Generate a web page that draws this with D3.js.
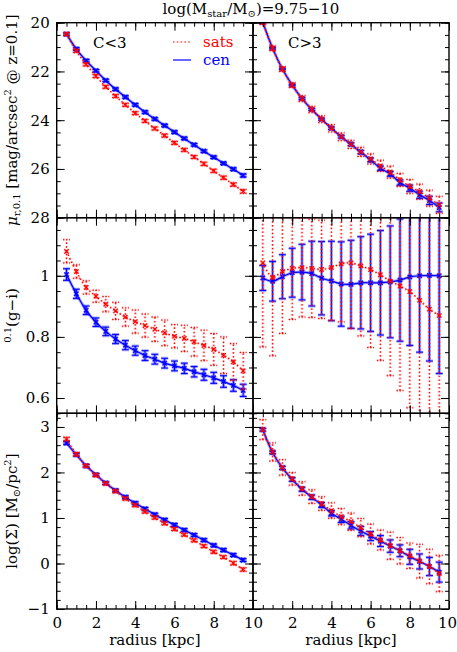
<!DOCTYPE html>
<html><head><meta charset="utf-8">
<script src="https://cdn.jsdelivr.net/npm/d3@7"></script>
<style>
body{margin:0;background:#fff}
svg{display:block}
text{font-family:"DejaVu Serif","Liberation Serif",serif;}
</style>
</head><body>
<svg id="c" width="457" height="652"></svg>
<script>
// ---------------- data ----------------
const radius = [0.5,1.0,1.5,2.0,2.5,3.0,3.5,4.0,4.5,5.0,5.5,6.0,6.5,7.0,7.5,8.0,8.5,9.0,9.5];

// surface brightness  (row 1)
const muLowCen    = [20.47,21.08,21.56,21.97,22.37,22.73,23.05,23.37,23.67,23.95,24.22,24.49,24.75,25.01,25.27,25.52,25.77,26.01,26.27];
const muLowCenErr = [0.05,0.05,0.05,0.05,0.05,0.05,0.05,0.05,0.05,0.05,0.05,0.05,0.05,0.05,0.05,0.05,0.05,0.05,0.06];
const muLowSat    = [20.47,21.16,21.71,22.19,22.63,23.01,23.37,23.71,24.03,24.34,24.63,24.93,25.22,25.51,25.79,26.08,26.36,26.64,26.92];
const muLowSatErr = [0.06,0.06,0.06,0.06,0.06,0.06,0.06,0.06,0.06,0.06,0.06,0.06,0.06,0.06,0.07,0.07,0.07,0.07,0.08];
const muHighCen    = [19.98,21.05,21.90,22.56,23.11,23.56,23.96,24.33,24.68,24.99,25.31,25.63,25.97,26.20,26.56,26.79,27.06,27.29,27.58];
const muHighCenErr = [0.03,0.03,0.03,0.03,0.04,0.04,0.04,0.05,0.05,0.06,0.07,0.08,0.09,0.10,0.11,0.13,0.15,0.17,0.18];
const muHighSat    = [19.98,21.05,21.90,22.56,23.11,23.56,23.96,24.33,24.68,24.99,25.30,25.59,25.87,26.13,26.45,26.72,26.93,27.20,27.47];
const muHighSatErr = [0.10,0.10,0.10,0.10,0.12,0.13,0.14,0.15,0.16,0.17,0.19,0.21,0.23,0.25,0.27,0.29,0.31,0.33,0.35];

// colour (row 2)
const gi_LowCen    = [1.004,0.941,0.887,0.848,0.818,0.793,0.773,0.755,0.739,0.727,0.714,0.705,0.697,0.686,0.676,0.666,0.654,0.641,0.625];
const gi_LowCenErr = [0.019,0.015,0.014,0.014,0.014,0.015,0.015,0.015,0.016,0.016,0.016,0.016,0.017,0.017,0.018,0.018,0.019,0.019,0.020];
const gi_LowSat    = [1.080,1.014,0.962,0.933,0.907,0.885,0.865,0.850,0.837,0.825,0.813,0.802,0.795,0.784,0.772,0.759,0.740,0.718,0.689];
const gi_LowSatErr = [0.038,0.022,0.022,0.020,0.025,0.028,0.030,0.038,0.038,0.040,0.042,0.038,0.043,0.047,0.050,0.052,0.060,0.060,0.060];
const gi_HighCen    = [0.993,0.982,0.997,1.010,1.012,1.007,0.992,0.983,0.973,0.972,0.977,0.977,0.977,0.980,0.986,0.996,1.000,1.001,1.000];
const gi_HighCenErr = [0.041,0.065,0.072,0.080,0.091,0.106,0.120,0.130,0.138,0.144,0.151,0.159,0.171,0.183,0.200,0.224,0.250,0.280,0.320];
const gi_HighSat    = [1.042,0.995,1.014,1.024,1.027,1.024,1.021,1.027,1.039,1.042,1.032,1.020,1.003,0.983,0.966,0.948,0.920,0.891,0.870];
const gi_HighSatErr = [0.275,0.257,0.203,0.167,0.162,0.161,0.161,0.173,0.190,0.215,0.229,0.255,0.280,0.310,0.342,0.380,0.450,0.500,0.550];

// stellar mass surface density (row 3)
const sigLowCen    = [2.647,2.390,2.147,1.950,1.765,1.603,1.456,1.324,1.199,1.074,0.956,0.846,0.735,0.625,0.515,0.397,0.294,0.184,0.074];
const sigLowCenErr = [0.03,0.03,0.03,0.03,0.03,0.03,0.03,0.03,0.03,0.03,0.03,0.03,0.03,0.03,0.03,0.03,0.03,0.03,0.03];
const sigLowSat    = [2.735,2.400,2.147,1.940,1.757,1.588,1.426,1.279,1.140,1.007,0.882,0.757,0.632,0.507,0.382,0.257,0.140,0.007,-0.132];
const sigLowSatErr = [0.04,0.04,0.03,0.03,0.03,0.03,0.03,0.03,0.03,0.03,0.03,0.03,0.03,0.03,0.03,0.03,0.03,0.04,0.04];
const sigHighCen    = [2.94,2.44,2.10,1.846,1.632,1.456,1.287,1.103,0.970,0.838,0.713,0.603,0.493,0.382,0.279,0.147,0.044,-0.066,-0.190];
const sigHighCenErr = [0.03,0.03,0.035,0.04,0.045,0.05,0.055,0.06,0.07,0.08,0.10,0.10,0.12,0.136,0.13,0.165,0.165,0.20,0.22];
const sigHighSat    = [2.94,2.45,2.11,1.86,1.647,1.47,1.316,1.162,1.03,0.919,0.787,0.647,0.515,0.39,0.279,0.169,0.051,-0.066,-0.22];
const sigHighSatErr = [0.22,0.20,0.17,0.14,0.15,0.15,0.15,0.17,0.18,0.19,0.20,0.22,0.22,0.30,0.29,0.28,0.37,0.38,0.40];

// ticks
const xMajorTicks = [0,2,4,6,8,10];
const muTicks  = [20,22,24,26,28];
const giTicks  = [0.6,0.8,1.0];
const sigTicks = [-1,0,1,2,3];
const panelLabels = ["C<3","C>3"];

// ---------------- layout ----------------
const svg = d3.select("#c");
const colX = [[56.7,253],[253,449]];
const rowY = [[22.7,217.7],[217.7,413.3],[413.3,609]];
const FS = 15;

const rows = [
  {domain:[20,28], invert:true, major:muTicks, minorStep:0.5,
   sets:[[muLowCen,muLowCenErr,muLowSat,muLowSatErr],[muHighCen,muHighCenErr,muHighSat,muHighSatErr]]},
  {domain:[0.55,1.19], invert:false, major:giTicks, minorStep:0.05,
   sets:[[gi_LowCen,gi_LowCenErr,gi_LowSat,gi_LowSatErr],[gi_HighCen,gi_HighCenErr,gi_HighSat,gi_HighSatErr]]},
  {domain:[-1,3.3], invert:false, major:sigTicks, minorStep:0.2,
   sets:[[sigLowCen,sigLowCenErr,sigLowSat,sigLowSatErr],[sigHighCen,sigHighCenErr,sigHighSat,sigHighSatErr]]}
];

const fmt = d3.format("~g");
const BLUE="#0000ff", RED="#ff0000";

function minorVals(d0,d1,step){
  const out=[];
  const start=Math.ceil(d0/step-1e-9);
  for(let k=start;k*step<=d1+1e-9;k++){ out.push(+(k*step).toFixed(4)); }
  return out;
}

function styleAxis(g){
  g.select(".domain").remove();
  g.selectAll("line").attr("stroke","#000").attr("stroke-width",1);
  g.attr("font-size",FS).attr("font-family","DejaVu Serif, serif");
}

function drawSeries(g,x,y,vals,errs,color,dotted,clipId){
  const dg = g.append("g").attr("clip-path",`url(#${clipId})`);
  const dash = dotted ? "1.6,2.2" : null;
  const halo = dotted ? "rgba(255,0,0,0.25)" : "rgba(0,0,255,0.35)";
  // error bars
  const eb = dg.append("g");
  const pts = radius.map((r,i)=>({r, v:vals[i], e:errs[i]}));
  [[halo,3],[color,1]].forEach(([c,w])=>{
    const sg = eb.append("g").attr("stroke",c).attr("stroke-width",w).attr("fill","none");
    if(dash) sg.attr("stroke-dasharray",dash);
    sg.selectAll("line.v").data(pts).join("line")
      .attr("x1",d=>x(d.r)).attr("x2",d=>x(d.r))
      .attr("y1",d=>y(d.v-d.e)).attr("y2",d=>y(d.v+d.e));
    const cg = eb.append("g").attr("stroke",c).attr("stroke-width",w);
    if(dash) cg.attr("stroke-dasharray","1.5,1.5");
    ["lo","hi"].forEach(k=>{
      cg.selectAll("line."+k).data(pts).join("line").attr("class",k)
        .attr("x1",d=>x(d.r)-3.5).attr("x2",d=>x(d.r)+3.5)
        .attr("y1",d=>y(k==="lo"?d.v-d.e:d.v+d.e)).attr("y2",d=>y(k==="lo"?d.v-d.e:d.v+d.e));
    });
  });
  // line
  const line = d3.line().x(d=>x(d.r)).y(d=>y(d.v)).curve(d3.curveCatmullRom.alpha(0.5));
  dg.append("path").datum(pts).attr("d",line).attr("fill","none")
    .attr("stroke",halo).attr("stroke-width",3).attr("stroke-dasharray",dash);
  dg.append("path").datum(pts).attr("d",line).attr("fill","none")
    .attr("stroke",color).attr("stroke-width",1.2).attr("stroke-dasharray",dash);
  // x markers
  const mk = dg.append("g");
  [[halo,2.6],[color,1.1]].forEach(([c,w])=>{
    const m = mk.append("g").attr("stroke",c).attr("stroke-width",w);
    m.selectAll("path").data(pts).join("path")
      .attr("d",d=>{const cx=x(d.r), cy=y(d.v), s=2.2;
        return `M${cx-s},${cy-s}L${cx+s},${cy+s}M${cx-s},${cy+s}L${cx+s},${cy-s}`;});
  });
}

rows.forEach((row,ri)=>{
  const [yt,yb] = rowY[ri];
  const y = d3.scaleLinear().domain(row.domain).range(row.invert?[yt,yb]:[yb,yt]);
  const yMinor = minorVals(row.domain[0],row.domain[1],row.minorStep);
  colX.forEach((cx,ci)=>{
    const [x0,x1]=cx;
    const x = d3.scaleLinear().domain([0,10]).range([x0,x1]);
    const xMinor = minorVals(0,10,0.5);
    const g = svg.append("g");
    const clipId = `clip${ri}${ci}`;
    svg.append("clipPath").attr("id",clipId).append("rect")
      .attr("x",x0).attr("y",yt).attr("width",x1-x0).attr("height",yb-yt);

    // data: centrals then satellites
    const [cv,ce,sv,se] = row.sets[ci];
    drawSeries(g,x,y,cv,ce,BLUE,false,clipId);
    drawSeries(g,x,y,sv,se,RED,true,clipId);

    // axes (inward ticks)
    const isBottom = ri===2;
    const bottomFmt = d => (ci===1 && d===0) ? "" : fmt(d);
    g.append("g").attr("transform",`translate(0,${yb})`)
      .call(d3.axisBottom(x).tickValues(xMinor).tickSize(-4).tickFormat("")).call(styleAxis);
    const bx = g.append("g").attr("transform",`translate(0,${yb})`)
      .call(d3.axisBottom(x).tickValues(xMajorTicks).tickSize(-8).tickPadding(8)
        .tickFormat(isBottom?bottomFmt:()=>"")).call(styleAxis);
    if(isBottom && ci===1){
      bx.selectAll(".tick text").filter(d=>d===10).attr("dx",-2);
    }
    g.append("g").attr("transform",`translate(0,${yt})`)
      .call(d3.axisTop(x).tickValues(xMinor).tickSize(-4).tickFormat("")).call(styleAxis);
    g.append("g").attr("transform",`translate(0,${yt})`)
      .call(d3.axisTop(x).tickValues(xMajorTicks).tickSize(-8).tickFormat("")).call(styleAxis);

    g.append("g").attr("transform",`translate(${x0},0)`)
      .call(d3.axisLeft(y).tickValues(yMinor).tickSize(-4).tickFormat("")).call(styleAxis);
    g.append("g").attr("transform",`translate(${x0},0)`)
      .call(d3.axisLeft(y).tickValues(row.major).tickSize(-8).tickPadding(7)
        .tickFormat(ci===0?fmt:()=>"")).call(styleAxis);
    g.append("g").attr("transform",`translate(${x1},0)`)
      .call(d3.axisRight(y).tickValues(yMinor).tickSize(-4).tickFormat("")).call(styleAxis);
    g.append("g").attr("transform",`translate(${x1},0)`)
      .call(d3.axisRight(y).tickValues(row.major).tickSize(-8).tickFormat("")).call(styleAxis);

    g.append("rect").attr("x",x0).attr("y",yt).attr("width",x1-x0).attr("height",yb-yt)
      .attr("fill","none").attr("stroke","#000").attr("stroke-width",1.4);

    if(ri===0){
      g.append("text").attr("x",ci===0?93:288).attr("y",48).attr("font-size",FS).text(panelLabels[ci]);
    }
    if(isBottom){
      g.append("text").attr("x",(x0+x1)/2).attr("y",645).attr("text-anchor","middle")
        .attr("font-size",FS).text("radius [kpc]");
    }
  });
});

// legend (top-left panel)
const lg = svg.append("g");
lg.append("line").attr("x1",173).attr("x2",191).attr("y1",42).attr("y2",42)
  .attr("stroke",RED).attr("stroke-width",1.2).attr("stroke-dasharray","1.6,2.2");
lg.append("text").attr("x",203).attr("y",47).attr("fill",RED).attr("font-size",FS).text("sats");
lg.append("line").attr("x1",173).attr("x2",191).attr("y1",60).attr("y2",60)
  .attr("stroke",BLUE).attr("stroke-width",1.2);
lg.append("text").attr("x",203).attr("y",65).attr("fill",BLUE).attr("font-size",FS).text("cen");

// title
const t = svg.append("text").attr("x",251).attr("y",14).attr("text-anchor","middle").attr("font-size",FS);
t.append("tspan").text("log(M");
t.append("tspan").attr("font-size",10).attr("dy",3).text("star");
t.append("tspan").attr("dy",-3).text("/M");
t.append("tspan").attr("font-size",10).attr("dy",3).text("⊙");
t.append("tspan").attr("dy",-3).text(")=9.75−10");

// y-axis titles
function yTitle(cy, build){
  const tx = svg.append("text").attr("transform",`translate(17,${cy}) rotate(-90)`)
    .attr("text-anchor","middle").attr("font-size",FS);
  build(tx);
}
yTitle((rowY[0][0]+rowY[0][1])/2, tx=>{
  tx.append("tspan").attr("font-style","italic").text("μ");
  tx.append("tspan").attr("font-size",10).attr("dy",3).text("r,0.1");
  tx.append("tspan").attr("dy",-3).text(" [mag/arcsec");
  tx.append("tspan").attr("font-size",10).attr("dy",-6).text("2");
  tx.append("tspan").attr("dy",6).text(" @ z=0.1]");
});
yTitle((rowY[1][0]+rowY[1][1])/2, tx=>{
  tx.append("tspan").attr("font-size",10).attr("dy",-6).text("0.1");
  tx.append("tspan").attr("dy",6).text("(g−i)");
});
yTitle((rowY[2][0]+rowY[2][1])/2, tx=>{
  tx.append("tspan").text("log(Σ) [M");
  tx.append("tspan").attr("font-size",10).attr("dy",3).text("⊙");
  tx.append("tspan").attr("dy",-3).text("/pc");
  tx.append("tspan").attr("font-size",10).attr("dy",-6).text("2");
  tx.append("tspan").attr("dy",6).text("]");
});
</script>
</body></html>
